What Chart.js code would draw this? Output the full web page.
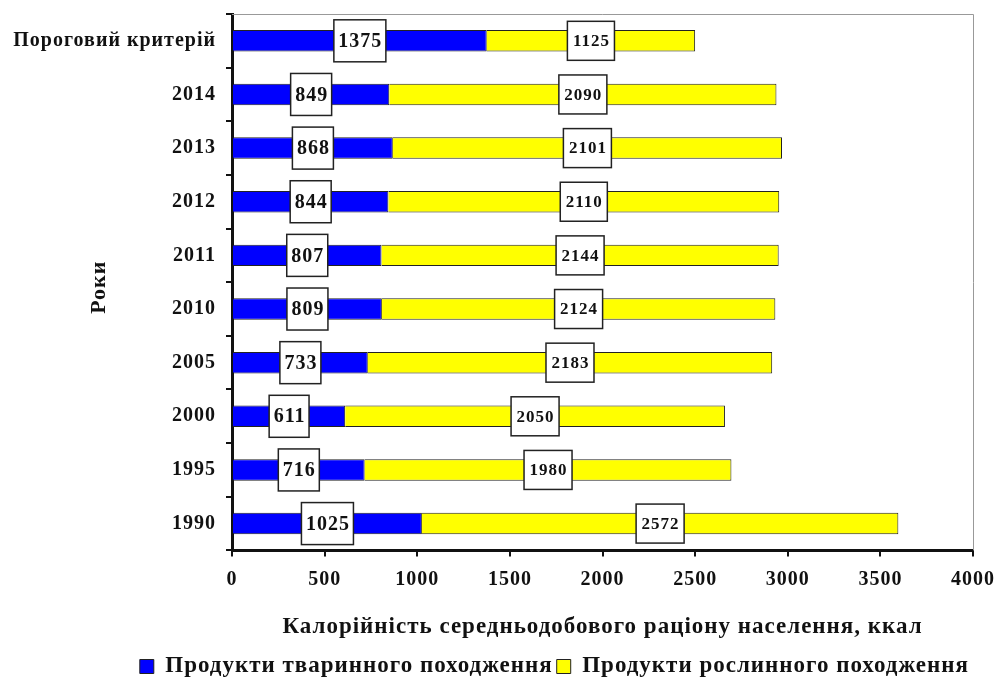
<!DOCTYPE html>
<html>
<head>
<meta charset="utf-8">
<script src="https://cdn.jsdelivr.net/npm/chart.js@4"></script>
<style>
  body { margin: 0; background: #fff; }
  #wrap { width: 998px; height: 682px; }
</style>
</head>
<body>
<div id="wrap"><canvas id="chart" width="998" height="682"></canvas></div>
<script>
// Дані з діаграми
const categories = ['Пороговий критерій', '2014', '2013', '2012', '2011', '2010', '2005', '2000', '1995', '1990'];
const animalValues = [1375, 849, 868, 844, 807, 809, 733, 611, 716, 1025];
const plantValues = [1125, 2090, 2101, 2110, 2144, 2124, 2183, 2050, 1980, 2572];
const xTicks = [0, 500, 1000, 1500, 2000, 2500, 3000, 3500, 4000];

const serif = '"Liberation Serif", "DejaVu Serif", serif';

// Трохи розріджений шрифт, як у оригіналі
const spacing = {
  id: 'spacing',
  afterInit(chart) { chart.ctx.letterSpacing = '1px'; },
  beforeLayout(chart) { chart.ctx.letterSpacing = '1px'; }
};

// Підписи у рамках по центру кожного сегмента
const boxLabels = {
  id: 'boxLabels',
  afterDatasetsDraw(chart) {
    const ctx = chart.ctx;
    const sizes = [{ font: 20, padX: 4, h: 42 }, { font: 17, padX: 5, h: 39 }];
    chart.data.datasets.forEach((ds, i) => {
      const meta = chart.getDatasetMeta(i);
      const s = sizes[i];
      meta.data.forEach((bar, j) => {
        const p = bar.getProps(['x', 'y', 'base'], true);
        const cx = (p.x + p.base) / 2;
        ctx.save();
        ctx.font = 'bold ' + s.font + 'px ' + serif;
        const text = String(ds.data[j]);
        const w = ctx.measureText(text).width + s.padX * 2;
        ctx.fillStyle = '#fff';
        ctx.fillRect(cx - w / 2, p.y - s.h / 2, w, s.h);
        ctx.strokeStyle = '#222';
        ctx.lineWidth = 1.5;
        ctx.strokeRect(cx - w / 2, p.y - s.h / 2, w, s.h);
        ctx.fillStyle = '#111';
        ctx.textAlign = 'center';
        ctx.textBaseline = 'middle';
        ctx.fillText(text, cx + 0.5, p.y + 1);
        ctx.restore();
      });
    });
  }
};

// Сіра рамка зверху і справа + назва осі Y
const frame = {
  id: 'frame',
  beforeDatasetsDraw(chart) {
    const { ctx, chartArea: a } = chart;
    ctx.save();
    ctx.strokeStyle = '#999';
    ctx.lineWidth = 1;
    ctx.beginPath();
    ctx.moveTo(a.left, a.top + 0.5);
    ctx.lineTo(a.right + 0.5, a.top + 0.5);
    ctx.lineTo(a.right + 0.5, a.bottom);
    ctx.stroke();
    ctx.restore();
  },
  afterDraw(chart) {
    const { ctx, chartArea: a } = chart;
    ctx.save();
    ctx.translate(99, (a.top + a.bottom) / 2 + 5);
    ctx.rotate(-Math.PI / 2);
    ctx.font = 'bold 22px ' + serif;
    ctx.fillStyle = '#111';
    ctx.textAlign = 'center';
    ctx.textBaseline = 'middle';
    ctx.fillText('Роки', 0, 0);
    ctx.restore();
  }
};

new Chart(document.getElementById('chart'), {
  type: 'bar',
  data: {
    labels: categories,
    datasets: [
      { label: 'Продукти тваринного походження', data: animalValues, backgroundColor: '#0000ff', borderColor: '#222', borderWidth: 1, barPercentage: 0.4, categoryPercentage: 1 },
      { label: 'Продукти рослинного походження', data: plantValues, backgroundColor: '#ffff00', borderColor: '#222', borderWidth: 1, barPercentage: 0.4, categoryPercentage: 1 }
    ]
  },
  options: {
    indexAxis: 'y',
    responsive: false,
    animation: false,
    layout: { padding: { left: 0, right: 25, top: 14, bottom: -6 } },
    scales: {
      x: {
        stacked: true,
        min: 0, max: 4000,
        afterBuildTicks: scale => { scale.ticks = xTicks.map(v => ({ value: v })); },
        afterFit: scale => { scale.paddingLeft = 0; scale.paddingRight = 0; },
        grid: { drawOnChartArea: false, drawTicks: true, tickLength: 6, color: '#111', lineWidth: 2 },
        border: { color: '#111', width: 3 },
        ticks: { color: '#111', font: { family: serif, size: 20, weight: 'bold' }, padding: 11, maxRotation: 0, callback: v => String(v) },
        title: { display: true, text: 'Калорійність середньодобового раціону населення, ккал', color: '#111', font: { family: serif, size: 23, weight: 'bold' }, padding: { top: 11, bottom: 10 } }
      },
      y: {
        stacked: true,
        afterFit: scale => { scale.width = 232; scale.paddingTop = 0; scale.paddingBottom = 0; },
        grid: { drawOnChartArea: false, drawTicks: true, tickLength: 6, color: '#111', lineWidth: 2, offset: true },
        border: { color: '#111', width: 3 },
        ticks: { color: '#111', font: { family: serif, size: 20, weight: 'bold' }, padding: 10 }
      }
    },
    plugins: {
      legend: {
        position: 'bottom',
        align: 'end',
        labels: { color: '#111', font: { family: serif, size: 23, weight: 'bold' }, boxWidth: 14, boxHeight: 14, padding: 4 }
      },
      tooltip: { enabled: false }
    }
  },
  plugins: [spacing, frame, boxLabels]
});
</script>
</body>
</html>
